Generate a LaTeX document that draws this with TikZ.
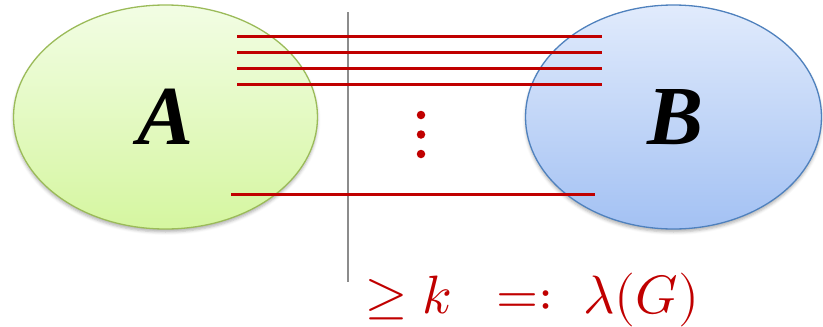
\documentclass[tikz,border=0pt]{standalone}
\usepackage{fontspec}
\usepackage{unicode-math}
\setmathfont{Latin Modern Math}
\usetikzlibrary{shapes.geometric,shadows.blur}
\newfontfamily\labelfont{Liberation Serif}
\definecolor{cutred}{HTML}{C00000}
\definecolor{agreenline}{HTML}{9BBB59}
\definecolor{agreentop}{HTML}{F2FDE4}
\definecolor{agreenbot}{HTML}{D5F6A0}
\definecolor{bblueline}{HTML}{4F81BD}
\definecolor{bbluetop}{HTML}{E1EBFC}
\definecolor{bbluebot}{HTML}{A3C1F3}
\begin{document}
\begin{tikzpicture}[x=1pt,y=-1pt,
  setnode/.style={ellipse, minimum width=#1, minimum height=224pt, inner sep=0pt, line width=1.3pt,
     blur shadow={shadow xshift=0pt, shadow yshift=-3pt, shadow blur radius=3pt, shadow opacity=30},
     font=\labelfont\bfseries\itshape\fontsize{84}{88}\selectfont},
  cutedge/.style={draw=cutred, line width=3.2pt},
  sepline/.style={draw=gray!90, line width=2pt},
  dotmark/.style={circle, fill=cutred, inner sep=0pt, minimum size=8.5pt}]
\useasboundingbox (0,0) rectangle (823,327);
\node[setnode=304pt, draw=agreenline, top color=agreentop, bottom color=agreenbot] (A) at (165.5,117) {A\hspace{16pt}};
\node[setnode=296pt, draw=bblueline, top color=bbluetop, bottom color=bbluebot] (B) at (673.5,117) {\hspace{4pt}B};
\coordinate (s1) at (348,12);
\coordinate (s2) at (348,282);
\draw[sepline] (s1) -- (s2);
\foreach \i/\y in {1/36.7,2/52.7,3/68.7,4/84.7}{
  \coordinate (l\i) at (237,\y);
  \coordinate (r\i) at (602,\y);
  \draw[cutedge] (l\i) -- (r\i);
}
\coordinate (l5) at (231,194.5);
\coordinate (r5) at (595,194.5);
\draw[cutedge] (l5) -- (r5);
\node[dotmark] (d1) at (421,115) {};
\node[dotmark] (d2) at (421,134.5) {};
\node[dotmark] (d3) at (421,154) {};
\node[anchor=base west, inner sep=0pt, text=cutred, font=\fontsize{54}{58}\selectfont] (lam) at (365,313) {$\geq k\;\;=:\;\lambda(G)$};
\end{tikzpicture}
\end{document}
